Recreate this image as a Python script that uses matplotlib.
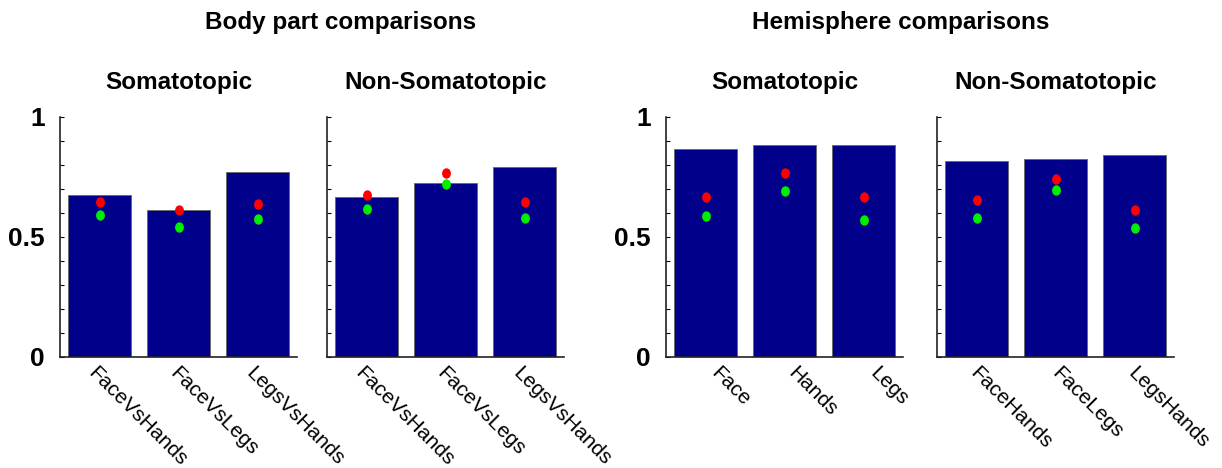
import numpy as np
import matplotlib
matplotlib.use('Agg')
import matplotlib.pyplot as plt
from matplotlib.path import Path
from matplotlib.transforms import Affine2D, ScaledTranslation

plt.rcParams['font.family'] = ['Liberation Sans', 'DejaVu Sans']

# ---- data
body_labels = ['FaceVsHands', 'FaceVsLegs', 'LegsVsHands']
hemi_soma_labels = ['Face', 'Hands', 'Legs']
hemi_nonsoma_labels = ['FaceHands', 'FaceLegs', 'LegsHands']

body_soma_bar = [0.676, 0.611, 0.770]
body_soma_red = [0.645, 0.611, 0.636]
body_soma_green = [0.590, 0.543, 0.576]

body_nonsoma_bar = [0.668, 0.726, 0.793]
body_nonsoma_red = [0.676, 0.768, 0.645]
body_nonsoma_green = [0.618, 0.720, 0.579]

hemi_soma_bar = [0.867, 0.882, 0.882]
hemi_soma_red = [0.668, 0.768, 0.668]
hemi_soma_green = [0.589, 0.690, 0.572]

hemi_nonsoma_bar = [0.817, 0.826, 0.843]
hemi_nonsoma_red = [0.653, 0.743, 0.611]
hemi_nonsoma_green = [0.581, 0.696, 0.539]

# slightly tall ellipse for the dots
circ = Path.unit_circle()
dot = Path(Affine2D().scale(0.85, 1.0).transform(circ.vertices), circ.codes)

W, H = 1222, 468
fig = plt.figure(figsize=(W / 100, H / 100), dpi=100)

panels = [
    (60, 'Somatotopic', body_labels, body_soma_bar, body_soma_red, body_soma_green, True),
    (327, 'Non-Somatotopic', body_labels, body_nonsoma_bar, body_nonsoma_red, body_nonsoma_green, False),
    (666, 'Somatotopic', hemi_soma_labels, hemi_soma_bar, hemi_soma_red, hemi_soma_green, True),
    (937, 'Non-Somatotopic', hemi_nonsoma_labels, hemi_nonsoma_bar, hemi_nonsoma_red, hemi_nonsoma_green, False),
]

for left, title, labels, bars, red, green, show_y in panels:
    ax = fig.add_axes([left / W, (H - 357) / H, 237 / W, 240 / H])
    x = np.arange(1, len(bars) + 1)
    ax.bar(x, bars, width=0.8, color='#00008B', edgecolor='#666666', linewidth=0.6, zorder=2)
    ax.plot(x, red, linestyle='none', marker=dot, markersize=7.5, color='#FF0000',
            markeredgewidth=0, zorder=3)
    ax.plot(x, green, linestyle='none', marker=dot, markersize=7.5, color='#00EE00',
            markeredgewidth=0, zorder=3)

    ax.set_xlim(0.5, 3.5)
    ax.set_ylim(0, 1)
    for s in ['top', 'right']:
        ax.spines[s].set_visible(False)
    for s in ['left', 'bottom']:
        ax.spines[s].set_linewidth(1.2)
        ax.spines[s].set_color('#222222')

    ax.set_yticks([0, 0.5, 1])
    ax.set_yticks(np.arange(0, 1.01, 0.1), minor=True)
    ax.tick_params(axis='y', which='both', direction='in', length=3, width=0.8, pad=11)
    if show_y:
        ax.set_yticklabels(['0', '0.5', '1'], fontsize=19, fontweight='bold')
    else:
        ax.set_yticklabels([])

    # rotated category labels; longer ones start a little further left
    ax.set_xticks([])
    for xi, lab in zip(x, labels):
        dx = (9 - 2.5 * (len(lab) - 4)) / 100
        off = ScaledTranslation(dx, -13 / 100, fig.dpi_scale_trans)
        ax.text(xi, 0, lab, transform=ax.get_xaxis_transform() + off,
                rotation=-45, rotation_mode='anchor', ha='left', va='center',
                fontsize=15, clip_on=False)

    ax.set_title(title, fontsize=17.5, fontweight='bold', pad=20)

fig.text(205 / W, 1 - 29 / H, 'Body part comparisons', ha='left', va='baseline',
         fontsize=17.5, fontweight='bold')
fig.text(752 / W, 1 - 29 / H, 'Hemisphere comparisons', ha='left', va='baseline',
         fontsize=17.5, fontweight='bold')

fig.savefig('out.png', dpi=100)
